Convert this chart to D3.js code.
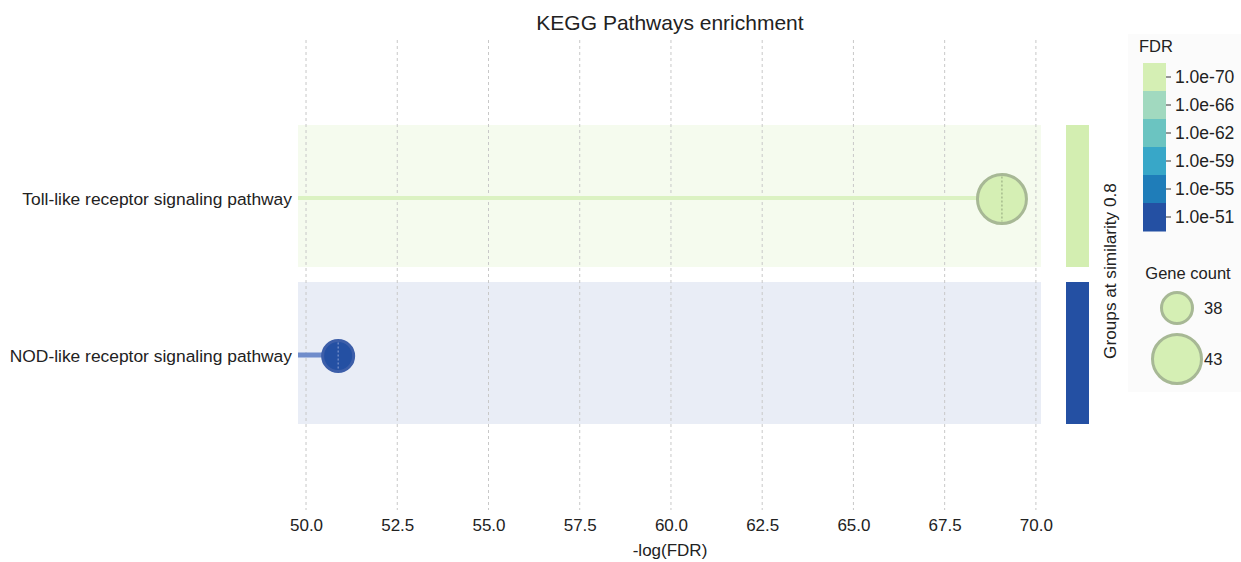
<!DOCTYPE html>
<html>
<head>
<meta charset="utf-8">
<script src="https://cdn.jsdelivr.net/npm/d3@7"></script>
<style>
  html, body { margin: 0; padding: 0; background: #fff; }
  svg { display: block; font-family: "Liberation Sans", Arial, sans-serif; }
</style>
</head>
<body>
<svg id="chart" width="1241" height="562"></svg>
<script>
// Enriched KEGG pathways, top to bottom
const pathways = ["Toll-like receptor signaling pathway", "NOD-like receptor signaling pathway"];
const negLogFdr = [69.07, 50.88];
const geneCount = [43, 38];
const groupColors = ["#d3eeb1", "#2450a3"];

// x-axis ticks
const xTicks = [50.0, 52.5, 55.0, 57.5, 60.0, 62.5, 65.0, 67.5, 70.0];

// FDR colour legend
const fdrLabels = ["1.0e-70", "1.0e-66", "1.0e-62", "1.0e-59", "1.0e-55", "1.0e-51"];
const fdrColors = ["#d5efb4", "#a1d9bf", "#6bc4c1", "#38a7c8", "#1f7db9", "#2450a3"];

// Gene count legend
const sizeLegend = [38, 43];

const svg = d3.select("#chart");

const x = d3.scaleLinear().domain([49.78, 70.14]).range([298, 1041]);
const y = d3.scalePoint().domain(pathways).range([198, 355]);
const r = d3.scaleLinear().domain([38, 43]).range([15.5, 24.5]);
const color = d3.scaleLinear().domain([50.88, 69.07]).range([fdrColors[5], fdrColors[0]]);

// Title
svg.append("text")
  .attr("x", 670).attr("y", 30)
  .attr("text-anchor", "middle")
  .attr("font-size", 21)
  .attr("fill", "#222")
  .text("KEGG Pathways enrichment");

// Group background bands
svg.append("g").selectAll("rect")
  .data(pathways)
  .join("rect")
  .attr("x", x.range()[0])
  .attr("width", x.range()[1] - x.range()[0])
  .attr("y", d => y(d) - 73)
  .attr("height", 142)
  .attr("fill", (d, i) => i === 0 ? "#f5fbee" : "#e9edf6");

// Vertical dashed grid
svg.append("g").selectAll("line")
  .data(xTicks)
  .join("line")
  .attr("x1", d => x(d)).attr("x2", d => x(d))
  .attr("y1", 40).attr("y2", 510)
  .attr("stroke", "#c8c8c8")
  .attr("stroke-width", 1)
  .attr("stroke-dasharray", "3,3");

// x axis labels
const xAxis = d3.axisBottom(x).tickValues(xTicks).tickFormat(d3.format(".1f")).tickSize(0).tickPadding(0);
const gx = svg.append("g").attr("transform", "translate(0,519)").call(xAxis);
gx.select(".domain").remove();
gx.selectAll("text")
  .attr("font-family", "'Liberation Sans', Arial, sans-serif")
  .attr("font-size", 17)
  .attr("fill", "#222");

svg.append("text")
  .attr("x", 670).attr("y", 556)
  .attr("text-anchor", "middle")
  .attr("font-size", 17)
  .attr("fill", "#222")
  .text("-log(FDR)");

// Pathway labels
svg.append("g").selectAll("text")
  .data(pathways)
  .join("text")
  .attr("x", 292)
  .attr("y", d => y(d) + 7)
  .attr("text-anchor", "end")
  .attr("font-size", 17.4)
  .attr("fill", "#222")
  .text(d => d);

// Lollipop stems
svg.append("g").selectAll("line")
  .data(pathways)
  .join("line")
  .attr("x1", x.range()[0])
  .attr("x2", (d, i) => x(negLogFdr[i]))
  .attr("y1", d => y(d)).attr("y2", d => y(d))
  .attr("stroke", (d, i) => i === 0 ? "#dbf2c2" : "#6f8ccb")
  .attr("stroke-width", (d, i) => i === 0 ? 4 : 5);

// Points
const pts = svg.append("g").selectAll("g")
  .data(pathways)
  .join("g")
  .attr("transform", (d, i) => `translate(${x(negLogFdr[i])},${y(d) + 1})`);

pts.append("circle")
  .attr("r", (d, i) => r(geneCount[i]))
  .attr("fill", (d, i) => color(negLogFdr[i]))
  .attr("stroke", (d, i) => i === 0 ? "#a7b895" : "#3c5ea9")
  .attr("stroke-width", 3);

pts.append("line")
  .attr("y1", (d, i) => -r(geneCount[i]) + 2)
  .attr("y2", (d, i) => r(geneCount[i]) - 2)
  .attr("stroke", (d, i) => i === 0 ? "#8fa27a" : "#8ea4d6")
  .attr("stroke-width", 1)
  .attr("stroke-dasharray", "2,2");

// Group-at-similarity bar
svg.append("g").selectAll("rect")
  .data(pathways)
  .join("rect")
  .attr("x", 1066).attr("width", 23)
  .attr("y", d => y(d) - 73)
  .attr("height", 142)
  .attr("fill", (d, i) => groupColors[i]);

svg.append("text")
  .attr("transform", "translate(1116,271) rotate(-90)")
  .attr("text-anchor", "middle")
  .attr("font-size", 17.2)
  .attr("fill", "#222")
  .text("Groups at similarity 0.8");

// Legend panel
svg.append("rect")
  .attr("x", 1128).attr("y", 34)
  .attr("width", 113).attr("height", 358)
  .attr("fill", "#fbfbfb");

svg.append("text")
  .attr("x", 1139).attr("y", 52)
  .attr("font-size", 16.5)
  .attr("fill", "#222")
  .text("FDR");

const cbTop = 63, cbH = 28;
const legendFdr = svg.append("g");
legendFdr.selectAll("rect")
  .data(fdrColors)
  .join("rect")
  .attr("x", 1143).attr("width", 23)
  .attr("y", (d, i) => cbTop + i * cbH)
  .attr("height", cbH + 0.5)
  .attr("fill", d => d);
legendFdr.selectAll("line")
  .data(fdrLabels)
  .join("line")
  .attr("x1", 1166).attr("x2", 1171)
  .attr("y1", (d, i) => cbTop + i * cbH + 14)
  .attr("y2", (d, i) => cbTop + i * cbH + 14)
  .attr("stroke", "#333");
legendFdr.selectAll("text")
  .data(fdrLabels)
  .join("text")
  .attr("x", 1175)
  .attr("y", (d, i) => cbTop + i * cbH + 20)
  .attr("font-size", 17.5)
  .attr("fill", "#222")
  .text(d => d);

svg.append("text")
  .attr("x", 1188).attr("y", 279)
  .attr("text-anchor", "middle")
  .attr("font-size", 16.5)
  .attr("fill", "#222")
  .text("Gene count");

const sizeG = svg.append("g").selectAll("g")
  .data(sizeLegend)
  .join("g")
  .attr("transform", (d, i) => `translate(1177,${i === 0 ? 308 : 359})`);
sizeG.append("circle")
  .attr("r", d => r(d))
  .attr("fill", fdrColors[0])
  .attr("stroke", "#a7b895")
  .attr("stroke-width", 3);
sizeG.append("text")
  .attr("x", 27)
  .attr("y", 6)
  .attr("font-size", 16.5)
  .attr("fill", "#222")
  .text(d => d);
</script>
</body>
</html>
